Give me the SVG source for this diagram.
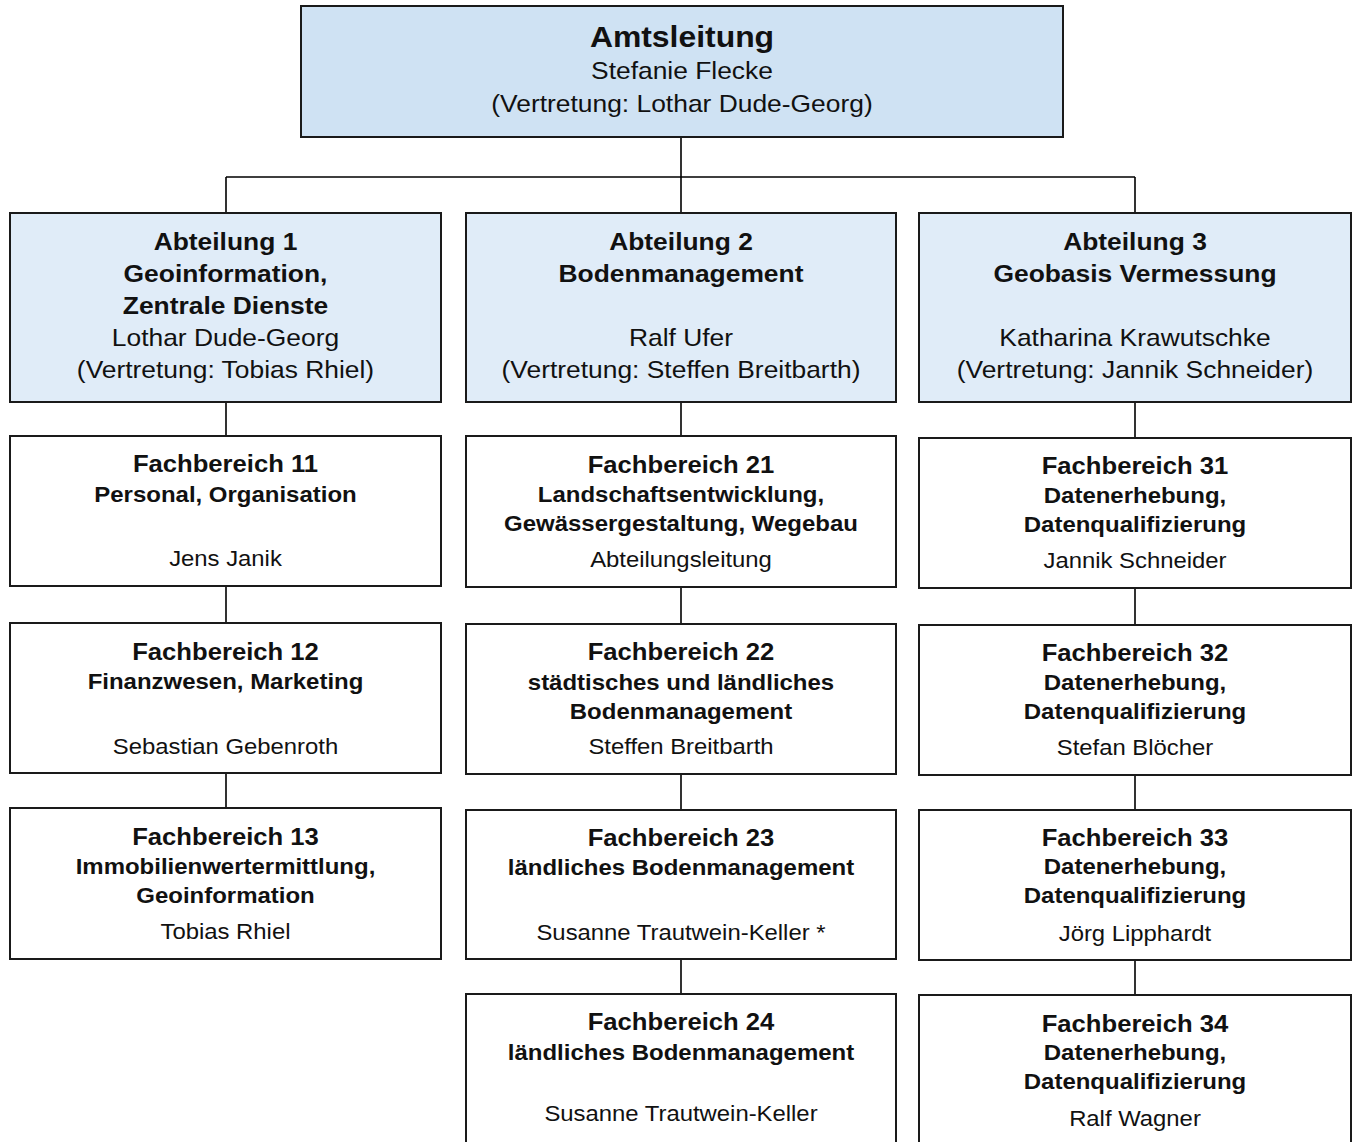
<svg xmlns="http://www.w3.org/2000/svg" width="1357" height="1142" viewBox="0 0 1357 1142">
<style>
.box{fill:#ffffff;stroke:#1a1a1a;stroke-width:2}
.top{fill:#cfe2f3;stroke:#1a1a1a;stroke-width:2}
.abt{fill:#e0ecf8;stroke:#1a1a1a;stroke-width:2}
.ln{stroke:#000;stroke-width:1.6;fill:none}
text{font-family:"Liberation Sans",Arial,Helvetica,sans-serif;fill:#111;text-anchor:middle}
.b{font-weight:bold}
.h0{font-size:29px}
.r0{font-size:24px}
.a{font-size:24px}
.ft{font-size:23.3px}
.fs{font-size:21.8px}
.fn{font-size:21.7px}
</style>
<rect x="0" y="0" width="1357" height="1142" fill="#ffffff"/>
<g id="connectors">
<path class="ln" d="M681 137V213M226 177H1135M226 177V213M1135 177V213"/>
<path class="ln" d="M226 402V436M226 586V623M226 773V808"/>
<path class="ln" d="M681 402V436M681 587V624M681 774V810M681 959V994"/>
<path class="ln" d="M1135 402V438M1135 588V625M1135 775V810M1135 960V995"/>
</g>
<g id="amtsleitung">
<rect class="top" x="301" y="6" width="762" height="131"/>
<g transform="scale(1.1 1)">
<text class="b h0" x="620" y="47">Amtsleitung</text>
<text class="r0" x="620" y="79">Stefanie Flecke</text>
<text class="r0" x="620" y="112">(Vertretung: Lothar Dude-Georg)</text>
</g>
</g>
<g id="abteilung1">
<rect class="abt" x="10" y="213" width="431" height="189"/>
<g transform="scale(1.1 1)">
<text class="b a" x="205" y="250.5">Abteilung 1</text>
<text class="b a" x="205" y="282">Geoinformation,</text>
<text class="b a" x="205" y="314">Zentrale Dienste</text>
<text class="a" x="205" y="346">Lothar Dude-Georg</text>
<text class="a" x="205" y="378">(Vertretung: Tobias Rhiel)</text>
</g>
</g>
<g id="abteilung2">
<rect class="abt" x="466" y="213" width="430" height="189"/>
<g transform="scale(1.1 1)">
<text class="b a" x="619.1" y="250.5">Abteilung 2</text>
<text class="b a" x="619.1" y="282">Bodenmanagement</text>
<text class="a" x="619.1" y="346">Ralf Ufer</text>
<text class="a" x="619.1" y="378">(Vertretung: Steffen Breitbarth)</text>
</g>
</g>
<g id="abteilung3">
<rect class="abt" x="919" y="213" width="432" height="189"/>
<g transform="scale(1.1 1)">
<text class="b a" x="1031.8" y="250.5">Abteilung 3</text>
<text class="b a" x="1031.8" y="282">Geobasis Vermessung</text>
<text class="a" x="1031.8" y="346">Katharina Krawutschke</text>
<text class="a" x="1031.8" y="378">(Vertretung: Jannik Schneider)</text>
</g>
</g>
<g id="fb11">
<rect class="box" x="10" y="436" width="431" height="150"/>
<g transform="scale(1.1 1)">
<text class="b ft" x="205" y="472">Fachbereich 11</text>
<text class="b fs" x="205" y="502">Personal, Organisation</text>
<text class="fn" x="205" y="566">Jens Janik</text>
</g>
</g>
<g id="fb12">
<rect class="box" x="10" y="623" width="431" height="150"/>
<g transform="scale(1.1 1)">
<text class="b ft" x="205" y="660">Fachbereich 12</text>
<text class="b fs" x="205" y="689">Finanzwesen, Marketing</text>
<text class="fn" x="205" y="754">Sebastian Gebenroth</text>
</g>
</g>
<g id="fb13">
<rect class="box" x="10" y="808" width="431" height="151"/>
<g transform="scale(1.1 1)">
<text class="b ft" x="205" y="845">Fachbereich 13</text>
<text class="b fs" x="205" y="874">Immobilienwertermittlung,</text>
<text class="b fs" x="205" y="903">Geoinformation</text>
<text class="fn" x="205" y="939">Tobias Rhiel</text>
</g>
</g>
<g id="fb21">
<rect class="box" x="466" y="436" width="430" height="151"/>
<g transform="scale(1.1 1)">
<text class="b ft" x="619.1" y="473">Fachbereich 21</text>
<text class="b fs" x="619.1" y="502">Landschaftsentwicklung,</text>
<text class="b fs" x="619.1" y="531">Gewässergestaltung, Wegebau</text>
<text class="fn" x="619.1" y="567">Abteilungsleitung</text>
</g>
</g>
<g id="fb22">
<rect class="box" x="466" y="624" width="430" height="150"/>
<g transform="scale(1.1 1)">
<text class="b ft" x="619.1" y="660">Fachbereich 22</text>
<text class="b fs" x="619.1" y="690">städtisches und ländliches</text>
<text class="b fs" x="619.1" y="719">Bodenmanagement</text>
<text class="fn" x="619.1" y="754">Steffen Breitbarth</text>
</g>
</g>
<g id="fb23">
<rect class="box" x="466" y="810" width="430" height="149"/>
<g transform="scale(1.1 1)">
<text class="b ft" x="619.1" y="846">Fachbereich 23</text>
<text class="b fs" x="619.1" y="875">ländliches Bodenmanagement</text>
<text class="fn" x="619.1" y="940">Susanne Trautwein-Keller *</text>
</g>
</g>
<g id="fb24">
<rect class="box" x="466" y="994" width="430" height="150"/>
<g transform="scale(1.1 1)">
<text class="b ft" x="619.1" y="1030">Fachbereich 24</text>
<text class="b fs" x="619.1" y="1060">ländliches Bodenmanagement</text>
<text class="fn" x="619.1" y="1121">Susanne Trautwein-Keller</text>
</g>
</g>
<g id="fb31">
<rect class="box" x="919" y="438" width="432" height="150"/>
<g transform="scale(1.1 1)">
<text class="b ft" x="1031.8" y="474">Fachbereich 31</text>
<text class="b fs" x="1031.8" y="503">Datenerhebung,</text>
<text class="b fs" x="1031.8" y="532">Datenqualifizierung</text>
<text class="fn" x="1031.8" y="568">Jannik Schneider</text>
</g>
</g>
<g id="fb32">
<rect class="box" x="919" y="625" width="432" height="150"/>
<g transform="scale(1.1 1)">
<text class="b ft" x="1031.8" y="661">Fachbereich 32</text>
<text class="b fs" x="1031.8" y="690">Datenerhebung,</text>
<text class="b fs" x="1031.8" y="719">Datenqualifizierung</text>
<text class="fn" x="1031.8" y="755">Stefan Blöcher</text>
</g>
</g>
<g id="fb33">
<rect class="box" x="919" y="810" width="432" height="150"/>
<g transform="scale(1.1 1)">
<text class="b ft" x="1031.8" y="846">Fachbereich 33</text>
<text class="b fs" x="1031.8" y="874">Datenerhebung,</text>
<text class="b fs" x="1031.8" y="903">Datenqualifizierung</text>
<text class="fn" x="1031.8" y="941">Jörg Lipphardt</text>
</g>
</g>
<g id="fb34">
<rect class="box" x="919" y="995" width="432" height="150"/>
<g transform="scale(1.1 1)">
<text class="b ft" x="1031.8" y="1032">Fachbereich 34</text>
<text class="b fs" x="1031.8" y="1060">Datenerhebung,</text>
<text class="b fs" x="1031.8" y="1089">Datenqualifizierung</text>
<text class="fn" x="1031.8" y="1126">Ralf Wagner</text>
</g>
</g>
</svg>
